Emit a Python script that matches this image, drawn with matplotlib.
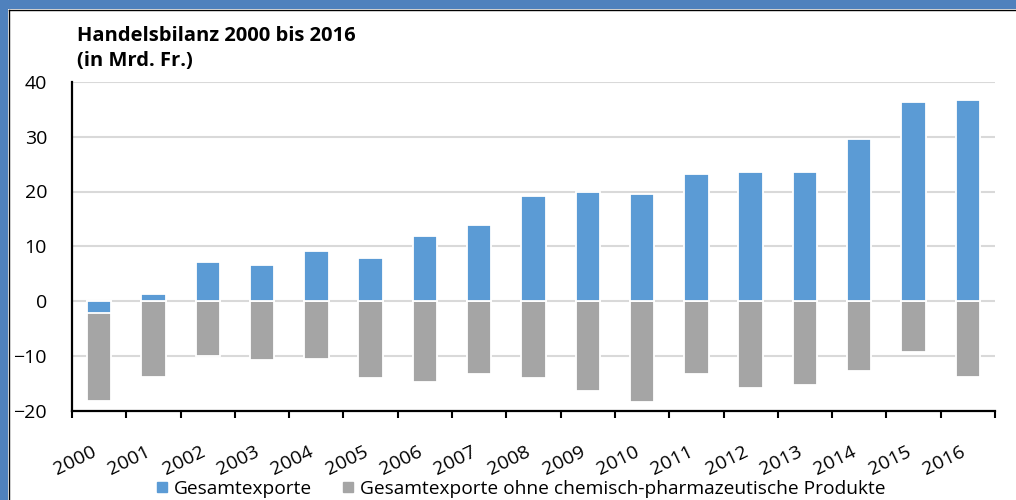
import matplotlib
matplotlib.use("Agg")
import matplotlib.pyplot as plt
from matplotlib.patches import Rectangle
from matplotlib.lines import Line2D
import numpy as np

plt.rcParams['font.family'] = ['Open Sans', 'DejaVu Sans']

jahre = [str(j) for j in range(2000, 2017)]
gesamt = [-2.2, 1.3, 7.2, 6.6, 9.1, 7.8, 11.8, 13.8, 19.1, 20.0, 19.5,
          23.2, 23.5, 23.5, 29.6, 36.4, 36.7]
ohne_chem = [-18.2, -13.8, -10.1, -10.8, -10.6, -14.0, -14.8, -13.4, -14.0,
             -16.4, -18.4, -13.4, -15.8, -15.4, -12.7, -9.4, -13.8]

blau = '#5b9bd5'
grau = '#a5a5a5'

fig = plt.figure(figsize=(10.16, 5.0), dpi=100)
ax = fig.add_axes([72 / 1016, 1 - 410.5 / 500, 923 / 1016, 328.5 / 500])

x = np.arange(len(jahre))
ax.bar(x, ohne_chem, width=0.45, color=grau, edgecolor='white', linewidth=1.3,
       zorder=2, label='Gesamtexporte ohne chemisch-pharmazeutische Produkte')
ax.bar(x, gesamt, width=0.45, color=blau, edgecolor='white', linewidth=1.3,
       zorder=3, label='Gesamtexporte')

ax.set_xlim(-0.5, len(jahre) - 0.5)
ax.set_ylim(-20, 40)
ax.set_yticks([-20, -10, 0, 10, 20, 30, 40])
ax.grid(axis='y', color='#d9d9d9', linewidth=1.5, zorder=0)
ax.set_axisbelow(True)

ax.set_xticks(x)
ax.set_xticklabels(jahre, rotation=26, ha='right')
ax.set_xticks(np.arange(-0.5, len(jahre)), minor=True)
ax.tick_params(axis='x', which='major', length=0, pad=23, labelsize=14)
ax.tick_params(axis='x', which='minor', length=5, width=1.5, color='black')
ax.tick_params(axis='y', length=0, pad=18, labelsize=14)

for s in ['top', 'right']:
    ax.spines[s].set_visible(False)
for s in ['left', 'bottom']:
    ax.spines[s].set_linewidth(1.6)
    ax.spines[s].set_color('black')

fig.text(77 / 1016, 1 - 26 / 500, 'Handelsbilanz 2000 bis 2016\n(in Mrd. Fr.)',
         fontsize=14.5, fontweight='bold', va='top', ha='left', linespacing=1.35)

handles = [Line2D([], [], marker='s', linestyle='none', markersize=7,
                  markerfacecolor=blau, markeredgecolor=blau),
           Line2D([], [], marker='s', linestyle='none', markersize=7,
                  markerfacecolor=grau, markeredgecolor=grau)]
fig.legend(handles, ['Gesamtexporte',
                     'Gesamtexporte ohne chemisch-pharmazeutische Produkte'],
           loc='center', bbox_to_anchor=(521 / 1016, 1 - 489 / 500), ncol=2,
           frameon=False, fontsize=13.8, handletextpad=0.3, columnspacing=1.6,
           handlelength=0.6)

# blauer Rahmen oben und links
fig.patches.append(Rectangle((0, 1 - 9 / 500), 1, 9 / 500, transform=fig.transFigure,
                             facecolor='#4f81bd', edgecolor='none'))
fig.patches.append(Rectangle((0, 0), 8 / 1016, 1, transform=fig.transFigure,
                             facecolor='#4f81bd', edgecolor='none'))
fig.lines.append(Line2D([8.5 / 1016, 1], [1 - 10 / 500, 1 - 10 / 500],
                        transform=fig.transFigure, color='black', linewidth=1))
fig.lines.append(Line2D([9 / 1016, 9 / 1016], [0, 1 - 9.5 / 500],
                        transform=fig.transFigure, color='black', linewidth=1))

fig.savefig('out.png', dpi=100)
